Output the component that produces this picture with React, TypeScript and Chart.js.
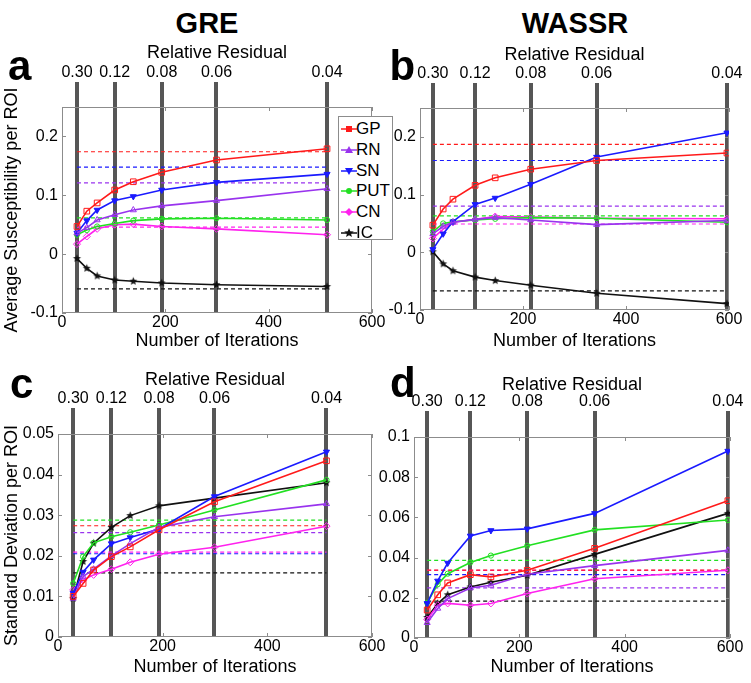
import React, { useEffect, useRef } from 'react';
import { Chart, registerables } from 'chart.js';

Chart.register(...registerables);

const FONT = "'Liberation Sans', Arial, Helvetica, sans-serif";

// ---------------- data ----------------
const roiNames = ['GP', 'RN', 'SN', 'PUT', 'CN', 'IC'];
const roiColors = ['#ff1a1a', '#9933ee', '#1a1aff', '#22e022', '#ff22ee', '#111111'];

const residualLabels = ['0.30', '0.12', '0.08', '0.06', '0.04'];
const greResidualIters = [29, 102, 193, 299, 513];
const wassrResidualIters = [25, 107, 215, 343, 596];

const greIterations = [29, 48, 68, 102, 138, 193, 299, 513];
const wassrIterations = [25, 45, 64, 107, 146, 215, 343, 596];

const xTicks = [0, 200, 400, 600];
const meanTicks = [-0.1, 0, 0.1, 0.2];
const greSdTicks = [0, 0.01, 0.02, 0.03, 0.04, 0.05];
const wassrSdTicks = [0, 0.02, 0.04, 0.06, 0.08, 0.1];

// panel a: GRE average susceptibility
const greMeanGP = [0.047, 0.073, 0.087, 0.109, 0.123, 0.139, 0.160, 0.179];
const greMeanRN = [0.036, 0.045, 0.058, 0.067, 0.075, 0.082, 0.091, 0.111];
const greMeanSN = [0.036, 0.057, 0.075, 0.091, 0.098, 0.109, 0.122, 0.136];
const greMeanPUT = [0.033, 0.041, 0.047, 0.052, 0.057, 0.060, 0.061, 0.058];
const greMeanCN = [0.017, 0.030, 0.043, 0.050, 0.051, 0.047, 0.043, 0.033];
const greMeanIC = [-0.0075, -0.024, -0.037, -0.044, -0.046, -0.049, -0.052, -0.055];
const greMeanRef = [0.174, 0.121, 0.148, 0.0615, 0.046, -0.059];

// panel b: WASSR average susceptibility
const wassrMeanGP = [0.047, 0.075, 0.092, 0.116, 0.129, 0.144, 0.159, 0.172];
const wassrMeanRN = [0.032, 0.045, 0.052, 0.057, 0.060, 0.056, 0.048, 0.055];
const wassrMeanSN = [0.005, 0.032, 0.053, 0.083, 0.094, 0.118, 0.165, 0.207];
const wassrMeanPUT = [0.036, 0.050, 0.053, 0.056, 0.058, 0.060, 0.059, 0.052];
const wassrMeanCN = [0.024, 0.040, 0.052, 0.057, 0.062, 0.061, 0.059, 0.058];
const wassrMeanIC = [0.001, -0.020, -0.032, -0.043, -0.049, -0.057, -0.071, -0.089];
const wassrMeanRef = [0.187, 0.080, 0.159, 0.063, 0.049, -0.067];

// panel c: GRE standard deviation
const greSdGP = [0.0100, 0.0132, 0.0165, 0.0198, 0.0222, 0.0264, 0.0333, 0.0434];
const greSdRN = [0.0095, 0.0149, 0.0167, 0.0200, 0.0230, 0.0270, 0.0296, 0.0328];
const greSdSN = [0.0108, 0.0160, 0.0190, 0.0230, 0.0245, 0.0266, 0.0346, 0.0456];
const greSdPUT = [0.0132, 0.0198, 0.0232, 0.0247, 0.0258, 0.0276, 0.0313, 0.0387];
const greSdCN = [0.0116, 0.0140, 0.0153, 0.0167, 0.0184, 0.0204, 0.0221, 0.0273];
const greSdIC = [0.0095, 0.0186, 0.0231, 0.0270, 0.0299, 0.0323, 0.0342, 0.0380];
const greSdRef = [0.0274, 0.0257, 0.0205, 0.0288, 0.0209, 0.0158];

// panel d: WASSR standard deviation
const wassrSdGP = [0.0139, 0.0215, 0.0274, 0.0315, 0.0304, 0.0337, 0.0446, 0.0683];
const wassrSdRN = [0.0076, 0.0147, 0.0196, 0.0249, 0.0262, 0.0317, 0.0360, 0.0436];
const wassrSdSN = [0.0172, 0.0284, 0.0373, 0.0508, 0.0535, 0.0543, 0.0620, 0.0930];
const wassrSdPUT = [0.0175, 0.0267, 0.0320, 0.0376, 0.0410, 0.0459, 0.0538, 0.0587];
const wassrSdCN = [0.0092, 0.0163, 0.0172, 0.0163, 0.0172, 0.0221, 0.0295, 0.0337];
const wassrSdIC = [0.0102, 0.0172, 0.0215, 0.0254, 0.0277, 0.0312, 0.0416, 0.0620];
const wassrSdRef = [0.0338, 0.0249, 0.0315, 0.0386, 0.0336, 0.0183];

// ---------------- helpers ----------------
function makeStar(color: string, r: number) {
  const c = document.createElement('canvas');
  const s = Math.ceil(r * 2) + 2;
  c.width = s;
  c.height = s;
  const ctx = c.getContext('2d')!;
  ctx.fillStyle = color;
  ctx.beginPath();
  for (let i = 0; i < 10; i++) {
    const a = -Math.PI / 2 + (i * Math.PI) / 5;
    const rr = i % 2 === 0 ? r : r * 0.45;
    ctx.lineTo(s / 2 + rr * Math.cos(a), s / 2 + rr * Math.sin(a));
  }
  ctx.closePath();
  ctx.fill();
  return c;
}

const pointStyles: any[] = ['rect', 'triangle', 'triangle', 'circle', 'rectRot', 'star'];
const pointRadii = [4, 3.5, 3.5, 2.6, 3.5, 4];

const boxPlugin = {
  id: 'matlabBox',
  beforeDatasetsDraw(chart: any) {
    const { ctx, chartArea: a, scales } = chart;
    ctx.save();
    ctx.strokeStyle = '#8c8c8c';
    ctx.lineWidth = 1;
    ctx.strokeRect(a.left + 0.5, a.top + 0.5, a.right - a.left - 1, a.bottom - a.top - 1);
    const xs = scales.x;
    ctx.beginPath();
    xs.ticks.forEach((t: any) => {
      const px = Math.round(xs.getPixelForValue(t.value)) + 0.5;
      ctx.moveTo(px, a.bottom);
      ctx.lineTo(px, a.bottom - 4);
      ctx.moveTo(px, a.top);
      ctx.lineTo(px, a.top + 4);
    });
    const ys = scales.y;
    ys.ticks.forEach((t: any) => {
      const py = Math.round(ys.getPixelForValue(t.value)) + 0.5;
      ctx.moveTo(a.left, py);
      ctx.lineTo(a.left + 4, py);
      ctx.moveTo(a.right, py);
      ctx.lineTo(a.right - 4, py);
    });
    ctx.stroke();
    ctx.restore();
  },
};

type PanelProps = {
  left: number;
  top: number;
  width: number;
  height: number;
  yW: number;
  topH: number;
  bottomH: number;
  rightW: number;
  iterations: number[];
  series: number[][];
  refs: number[];
  residualIters: number[];
  yMin: number;
  yMax: number;
  yTicks: number[];
  yTitle?: string;
  tickLen: number;
};

function Panel(p: PanelProps) {
  const ref = useRef<HTMLCanvasElement>(null);
  useEffect(() => {
    if (!ref.current) return;
    const star = makeStar(roiColors[5], 4.2);
    const datasets: any[] = [];
    p.series.forEach((vals, i) => {
      datasets.push({
        label: roiNames[i],
        data: vals.map((v, k) => ({ x: p.iterations[k], y: v })),
        borderColor: roiColors[i],
        borderWidth: 1.6,
        pointStyle: i === 5 ? star : pointStyles[i],
        rotation: i === 2 ? 180 : 0,
        pointRadius: pointRadii[i],
        pointBorderColor: roiColors[i],
        pointBackgroundColor: i === 2 ? roiColors[i] : 'rgba(0,0,0,0)',
        pointBorderWidth: 1,
        order: 0,
        xAxisID: 'x',
        yAxisID: 'y',
      });
    });
    const last = p.residualIters.length - 1;
    p.refs.forEach((v, i) => {
      datasets.push({
        label: roiNames[i] + ' reference',
        data: [
          { x: p.residualIters[0], y: v },
          { x: p.residualIters[last], y: v },
        ],
        borderColor: roiColors[i],
        borderWidth: 1.2,
        borderDash: [4, 3],
        pointRadius: 0,
        order: 1,
        xAxisID: 'x',
        yAxisID: 'y',
      });
    });

    const tickFont = { family: FONT, size: 16 };
    const titleFont = { family: FONT, size: 18 };

    const chart = new Chart(ref.current, {
      type: 'line',
      data: { datasets },
      plugins: [boxPlugin],
      options: {
        responsive: false,
        animation: false,
        events: [],
        layout: { padding: 0 },
        plugins: { legend: { display: false }, tooltip: { enabled: false } },
        scales: {
          x: {
            type: 'linear',
            position: 'bottom',
            min: 0,
            max: 600,
            afterBuildTicks: (s: any) => {
              s.ticks = xTicks.map((v) => ({ value: v }));
            },
            ticks: { font: tickFont, color: '#000', padding: 0, maxRotation: 0, autoSkip: false, callback: (v: any) => String(v) },
            grid: { display: false, drawTicks: false },
            border: { display: false },
            title: { display: true, text: 'Number of Iterations', font: titleFont, color: '#000', padding: 0 },
            afterFit: (s: any) => {
              s.height = p.bottomH;
            },
          },
          xTop: {
            type: 'linear',
            position: 'top',
            min: 0,
            max: 600,
            afterBuildTicks: (s: any) => {
              s.ticks = p.residualIters.map((v) => ({ value: v }));
            },
            ticks: {
              font: tickFont,
              color: '#000',
              padding: 0,
              maxRotation: 0,
              autoSkip: false,
              callback: (v: any) => residualLabels[p.residualIters.indexOf(v)],
            },
            grid: {
              display: true,
              drawOnChartArea: true,
              drawTicks: true,
              tickLength: p.tickLen,
              color: 'rgba(72,72,72,0.92)',
              lineWidth: 4,
            },
            border: { display: false },
            title: { display: true, text: 'Relative Residual', font: titleFont, color: '#000', padding: 0 },
            afterFit: (s: any) => {
              s.height = p.topH;
            },
          },
          y: {
            type: 'linear',
            position: 'left',
            min: p.yMin,
            max: p.yMax,
            afterBuildTicks: (s: any) => {
              s.ticks = p.yTicks.map((v) => ({ value: v }));
            },
            ticks: { font: tickFont, color: '#000', padding: 4, autoSkip: false, callback: (v: any) => String(v) },
            grid: { display: false, drawTicks: false },
            border: { display: false },
            title: {
              display: !!p.yTitle,
              text: p.yTitle || '',
              font: titleFont,
              color: '#000',
              padding: { top: 1, bottom: 0 },
            },
            afterFit: (s: any) => {
              s.width = p.yW;
            },
          },
          yR: {
            type: 'linear',
            position: 'right',
            min: 0,
            max: 1,
            ticks: { display: false },
            grid: { display: false, drawTicks: false },
            border: { display: false },
            afterFit: (s: any) => {
              s.width = p.rightW;
            },
          },
        },
      } as any,
    });
    return () => chart.destroy();
  }, []);
  return (
    <canvas
      ref={ref}
      width={p.width}
      height={p.height}
      style={{ position: 'absolute', left: p.left, top: p.top, width: p.width, height: p.height }}
    />
  );
}

function LegendMarker({ i }: { i: number }) {
  const c = roiColors[i];
  const cx = 8;
  const cy = 5;
  let shape: any = null;
  if (i === 0) shape = <rect x={cx - 3} y={cy - 3} width={6} height={6} fill={c} />;
  if (i === 1) shape = <polygon points={`${cx},${cy - 4} ${cx + 4},${cy + 3} ${cx - 4},${cy + 3}`} fill={c} />;
  if (i === 2) shape = <polygon points={`${cx},${cy + 4} ${cx + 4},${cy - 3} ${cx - 4},${cy - 3}`} fill={c} />;
  if (i === 3) shape = <circle cx={cx} cy={cy} r={3} fill={c} />;
  if (i === 4) shape = <polygon points={`${cx},${cy - 4} ${cx + 4},${cy} ${cx},${cy + 4} ${cx - 4},${cy}`} fill={c} />;
  if (i === 5) {
    const pts: string[] = [];
    for (let k = 0; k < 10; k++) {
      const a = -Math.PI / 2 + (k * Math.PI) / 5;
      const rr = k % 2 === 0 ? 5 : 2.2;
      pts.push(`${cx + rr * Math.cos(a)},${cy + rr * Math.sin(a)}`);
    }
    shape = <polygon points={pts.join(' ')} fill={c} />;
  }
  return (
    <svg width={16} height={10} style={{ position: 'absolute', left: 2, top: 6 }}>
      <line x1={0} y1={cy} x2={16} y2={cy} stroke={c} strokeWidth={1.5} />
      {shape}
    </svg>
  );
}

function Legend() {
  return (
    <div
      style={{
        position: 'absolute',
        left: 338,
        top: 116,
        width: 53,
        height: 122,
        border: '1px solid #8c8c8c',
        background: '#fff',
        fontFamily: FONT,
        fontSize: 17,
        color: '#000',
      }}
    >
      {roiNames.map((n, i) => (
        <div key={n} style={{ position: 'absolute', left: 0, top: 1 + i * 20.8, height: 21, width: 53 }}>
          <LegendMarker i={i} />
          <span style={{ position: 'absolute', left: 17, top: 1, lineHeight: '19px', whiteSpace: 'nowrap' }}>{n}</span>
        </div>
      ))}
    </div>
  );
}

const textBase: any = { position: 'absolute', fontFamily: FONT, color: '#000', lineHeight: 1, whiteSpace: 'nowrap' };

export default function App() {
  return (
    <div style={{ position: 'absolute', left: 0, top: 0, width: 751, height: 683, background: '#fff', overflow: 'hidden' }}>
      <div style={{ ...textBase, left: 107, top: 9, width: 200, textAlign: 'center', fontSize: 29, fontWeight: 'bold' }}>GRE</div>
      <div style={{ ...textBase, left: 475, top: 9, width: 200, textAlign: 'center', fontSize: 29, fontWeight: 'bold' }}>WASSR</div>

      <Panel
        left={0}
        top={42}
        width={392}
        height={310}
        yW={62}
        topH={65}
        bottomH={39}
        rightW={20}
        tickLen={25}
        iterations={greIterations}
        series={[greMeanGP, greMeanRN, greMeanSN, greMeanPUT, greMeanCN, greMeanIC]}
        refs={greMeanRef}
        residualIters={greResidualIters}
        yMin={-0.1}
        yMax={0.25}
        yTicks={meanTicks}
        yTitle="Average Susceptibility per ROI"
      />
      <Panel
        left={372}
        top={44}
        width={377}
        height={308}
        yW={48}
        topH={64}
        bottomH={42}
        rightW={20}
        tickLen={25}
        iterations={wassrIterations}
        series={[wassrMeanGP, wassrMeanRN, wassrMeanSN, wassrMeanPUT, wassrMeanCN, wassrMeanIC]}
        refs={wassrMeanRef}
        residualIters={wassrResidualIters}
        yMin={-0.1}
        yMax={0.25}
        yTicks={meanTicks}
      />
      <Panel
        left={0}
        top={369}
        width={392}
        height={309}
        yW={58}
        topH={65}
        bottomH={41}
        rightW={20}
        tickLen={26}
        iterations={greIterations}
        series={[greSdGP, greSdRN, greSdSN, greSdPUT, greSdCN, greSdIC]}
        refs={greSdRef}
        residualIters={greResidualIters}
        yMin={0}
        yMax={0.05}
        yTicks={greSdTicks}
        yTitle="Standard Deviation per ROI"
      />
      <Panel
        left={368}
        top={374}
        width={382}
        height={304}
        yW={46}
        topH={63}
        bottomH={40}
        rightW={20}
        tickLen={26}
        iterations={wassrIterations}
        series={[wassrSdGP, wassrSdRN, wassrSdSN, wassrSdPUT, wassrSdCN, wassrSdIC]}
        refs={wassrSdRef}
        residualIters={wassrResidualIters}
        yMin={0}
        yMax={0.1}
        yTicks={wassrSdTicks}
      />

      <Legend />

      <div style={{ ...textBase, left: 8, top: 44.5, fontSize: 42, fontWeight: 'bold' }}>a</div>
      <div style={{ ...textBase, left: 389.5, top: 44.5, fontSize: 42, fontWeight: 'bold' }}>b</div>
      <div style={{ ...textBase, left: 10, top: 362.5, fontSize: 42, fontWeight: 'bold' }}>c</div>
      <div style={{ ...textBase, left: 390, top: 361.5, fontSize: 42, fontWeight: 'bold' }}>d</div>
    </div>
  );
}
